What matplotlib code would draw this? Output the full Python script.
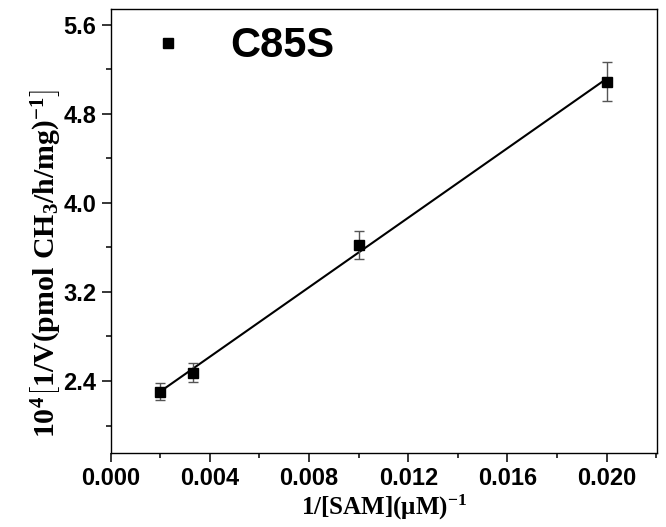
import numpy as np
import matplotlib
matplotlib.use("Agg")
import matplotlib.pyplot as plt
from matplotlib.ticker import MultipleLocator, FormatStrFormatter

# --- data ---
inv_sam = [0.002, 0.00333, 0.010, 0.020]
inv_v = [2.304, 2.474, 3.621, 5.087]
inv_v_err = [0.078, 0.084, 0.123, 0.175]
series_name = "C85S"

plt.rcParams['mathtext.fontset'] = 'custom'
plt.rcParams['mathtext.rm'] = 'Liberation Serif:bold'
plt.rcParams['mathtext.bf'] = 'Liberation Serif:bold'
plt.rcParams['mathtext.it'] = 'Liberation Serif:bold'

fig = plt.figure(figsize=(6.66, 5.27), dpi=100)
ax = fig.add_axes([0.1662, 0.141, 0.8203, 0.8425])

# linear fit through the points
slope, icpt = np.polyfit(inv_sam, inv_v, 1)
xfit = np.array([min(inv_sam), max(inv_sam)])
ax.plot(xfit, slope * xfit + icpt, color='black', lw=1.5, zorder=2)

ax.errorbar(inv_sam, inv_v, yerr=inv_v_err, fmt='none', ecolor='#555555',
            elinewidth=1.0, capsize=3.6, capthick=1.0, zorder=3)
ax.plot(inv_sam, inv_v, 's', color='black', ms=7, ls='none',
        label=series_name, zorder=4)

ax.set_xlim(0, 0.02203)
ax.set_ylim(1.756, 5.742)

ax.xaxis.set_major_locator(MultipleLocator(0.004))
ax.xaxis.set_minor_locator(MultipleLocator(0.002))
ax.yaxis.set_major_locator(MultipleLocator(0.8))
ax.yaxis.set_minor_locator(MultipleLocator(0.4))
ax.xaxis.set_major_formatter(FormatStrFormatter('%.3f'))
ax.yaxis.set_major_formatter(FormatStrFormatter('%.1f'))

ax.tick_params(which='major', direction='out', length=6.5, width=1.1, pad=4)
ax.tick_params(which='minor', direction='out', length=3.6, width=1.1)
ax.tick_params(top=False, right=False, which='both')
for lab in ax.get_xticklabels() + ax.get_yticklabels():
    lab.set_fontfamily('Liberation Sans')
    lab.set_fontweight('bold')
    lab.set_fontsize(17)
for sp in ax.spines.values():
    sp.set_linewidth(1.0)

ax.set_xlabel(r'$\mathbf{1/[SAM](\mu M)^{-1}}$', fontsize=18, labelpad=2)
ax.set_ylabel(r'$\mathbf{10^{4}\left[1/V\left(pmol\ CH_{3}/h/mg\right)^{-1}\right]}$',
              fontsize=21.5)
ax.yaxis.set_label_coords(-0.09, 0.425)

leg = ax.legend(loc='upper left', bbox_to_anchor=(0.0665, 0.96), frameon=False,
                borderaxespad=0, borderpad=0, handlelength=1.0, handletextpad=1.0,
                prop={'family': 'Liberation Sans', 'weight': 'bold', 'size': 30})

fig.savefig('out.png', dpi=100)
